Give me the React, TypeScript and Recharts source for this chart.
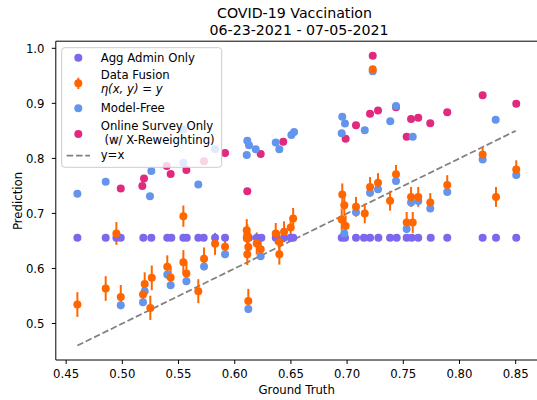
import React from 'react';
import { ScatterChart, Scatter, XAxis, YAxis, ErrorBar, ReferenceLine } from 'recharts';

// ---------- data ----------
const aggAdminX = [0.460, 0.4852, 0.4947, 0.4986, 0.5187, 0.5258, 0.540, 0.5436, 0.5543, 0.5573, 0.5676, 0.5724,
  0.5825, 0.5914, 0.6107, 0.6127, 0.6196, 0.6237, 0.6365, 0.6439, 0.6498, 0.6521, 0.6952, 0.6981, 0.7079,
  0.7150, 0.7204, 0.7278, 0.7382, 0.7441, 0.7530, 0.7575, 0.7633, 0.7744, 0.7891, 0.8206, 0.8325, 0.8505];
const aggAdminY = aggAdminX.map(() => 0.656);

const fusionX = [0.460, 0.4852, 0.4947, 0.4986, 0.5184, 0.5199, 0.5249, 0.5262, 0.540, 0.543, 0.5543, 0.5543,
  0.557, 0.5676, 0.5727, 0.5825, 0.5914, 0.6107, 0.6112, 0.6110, 0.6121, 0.6112, 0.6121, 0.6196, 0.6231,
  0.6365, 0.6397, 0.6397, 0.6439, 0.6498, 0.652, 0.6957, 0.6975, 0.6952, 0.6987, 0.7079, 0.7157, 0.7204,
  0.7275, 0.7228, 0.7382, 0.7435, 0.753, 0.7584, 0.7569, 0.7633, 0.774, 0.7891, 0.8206, 0.8325, 0.8505];
const fusionY = [0.5345, 0.5636, 0.6636, 0.548, 0.5527, 0.572, 0.5284, 0.583, 0.6029, 0.5836, 0.695, 0.6115,
  0.591, 0.5587, 0.6175, 0.6447, 0.6393, 0.6696, 0.6605, 0.6545, 0.639, 0.626, 0.541, 0.6455, 0.635,
  0.6636, 0.648, 0.626, 0.6667, 0.6745, 0.691, 0.7345, 0.715, 0.689, 0.677, 0.712, 0.700, 0.748,
  0.7556, 0.9618, 0.723, 0.771, 0.6836, 0.6836, 0.730, 0.730, 0.720, 0.7515, 0.807, 0.730, 0.780];
const fusionErr = [0.0224, 0.0224, 0.0206, 0.022, 0.018, 0.021, 0.022, 0.0224, 0.021, 0.0206, 0.0194, 0.0218,
  0.021, 0.0218, 0.0206, 0.020, 0.0194, 0.02, 0.02, 0.02, 0.02, 0.02, 0.022, 0.02, 0.019,
  0.019, 0.019, 0.019, 0.019, 0.019, 0.019, 0.02, 0.02, 0.02, 0.019, 0.018, 0.018, 0.018,
  0.0176, 0.005, 0.018, 0.017, 0.019, 0.019, 0.018, 0.018, 0.017, 0.018, 0.013, 0.018, 0.0165];

const modelFreeX = [0.4986, 0.5184, 0.5199, 0.540, 0.543, 0.557, 0.5727, 0.5914, 0.6121, 0.6231, 0.6975, 0.7079,
  0.7204, 0.7275, 0.7228, 0.7435, 0.7569, 0.7633, 0.774, 0.753, 0.7891, 0.8206, 0.8505,
  0.460, 0.4852, 0.4941, 0.5246, 0.5258, 0.5543, 0.5543, 0.5676, 0.5825, 0.6107, 0.6112, 0.6127, 0.6187,
  0.6365, 0.6397, 0.6504, 0.6528, 0.6957, 0.6981, 0.6952, 0.7157, 0.7384, 0.7435, 0.7584, 0.8322];
const modelFreeY = [0.5333, 0.5387, 0.5587, 0.589, 0.5696, 0.5769, 0.6036, 0.626, 0.5265, 0.6224, 0.6636, 0.702,
  0.7375, 0.744, 0.9582, 0.759, 0.720, 0.7224, 0.709, 0.6715, 0.739, 0.798, 0.770,
  0.7356, 0.7575, 0.834, 0.731, 0.777, 0.852, 0.792, 0.7527, 0.8164, 0.806, 0.832, 0.824, 0.8164,
  0.829, 0.8164, 0.8424, 0.848, 0.8757, 0.8636, 0.8455, 0.851, 0.8673, 0.895, 0.8393, 0.870];

const surveyX = [0.4986, 0.5178, 0.5193, 0.5395, 0.543, 0.557, 0.5727, 0.5914, 0.6112, 0.6231, 0.6432, 0.6987,
  0.7079, 0.7204, 0.7228, 0.7275, 0.7435, 0.753, 0.7569, 0.7633, 0.774, 0.7891, 0.8206, 0.8505];
const surveyY = [0.7455, 0.7496, 0.7636, 0.786, 0.7715, 0.7787, 0.795, 0.810, 0.7405, 0.8078, 0.830, 0.8356,
  0.860, 0.881, 0.9866, 0.887, 0.8927, 0.8393, 0.8715, 0.874, 0.864, 0.8836, 0.9145, 0.8993];

const diagonal = [0.46, 0.85];
const xTicks = [0.45, 0.5, 0.55, 0.6, 0.65, 0.7, 0.75, 0.8, 0.85];
const yTicks = [0.5, 0.6, 0.7, 0.8, 0.9, 1.0];

const titleLines = ['COVID-19 Vaccination', '06-23-2021 - 07-05-2021'];
const legendLabels = ['Agg Admin Only', 'Data Fusion', 'Model-Free', 'Online Survey Only', ' (w/ X-Reweighting)', 'y=x'];

// ---------- style ----------
const PURPLE = '#7b68ee';
const BLUE = '#6495ed';
const ORANGE = '#ff6600';
const PINK = '#e0297f';
const FONT = 'DejaVu Sans';
const FS = 11.7;

const aggData = aggAdminX.map((x, i) => ({ x, y: aggAdminY[i] }));
const fusionData = fusionX.map((x, i) => ({ x, y: fusionY[i], err: fusionErr[i] }));
const mfData = modelFreeX.map((x, i) => ({ x, y: modelFreeY[i] }));
const surveyData = surveyX.map((x, i) => ({ x, y: surveyY[i] }));

const dot = (color: string) => (p: any) => <circle cx={p.cx} cy={p.cy} r={4} fill={color} />;

const XTick = (p: any) => (
  <text x={p.x} y={p.y + 14.2} textAnchor="middle" fontSize={FS} fontFamily={FONT} fill="#000">
    {Number(p.payload.value).toFixed(2)}
  </text>
);
const YTick = (p: any) => (
  <text x={p.x - 7.3} y={p.y + 4.2} textAnchor="end" fontSize={FS} fontFamily={FONT} fill="#000">
    {Number(p.payload.value).toFixed(1)}
  </text>
);

const X_DOMAIN: [number, number] = [0.4408, 0.8695];
const Y_DOMAIN: [number, number] = [0.4337, 1.0129];

export default function App() {
  return (
    <div style={{ position: 'absolute', left: 0, top: 0, width: 537, height: 400, overflow: 'hidden', background: '#fff' }}>
      <ScatterChart width={540} height={400} margin={{ top: 41.2, right: 2.4, bottom: 0, left: 0 }}>
        <XAxis
          dataKey="x"
          type="number"
          domain={X_DOMAIN}
          allowDataOverflow
          ticks={xTicks}
          tick={<XTick />}
          tickSize={4}
          tickMargin={0}
          height={40}
          axisLine={{ stroke: '#000', strokeWidth: 1 }}
          tickLine={{ stroke: '#000', strokeWidth: 1 }}
        />
        <YAxis
          dataKey="y"
          type="number"
          domain={Y_DOMAIN}
          allowDataOverflow
          ticks={yTicks}
          tick={<YTick />}
          tickSize={4}
          tickMargin={0}
          width={55.8}
          axisLine={{ stroke: '#000', strokeWidth: 1 }}
          tickLine={{ stroke: '#000', strokeWidth: 1 }}
        />
        <ReferenceLine y={Y_DOMAIN[1]} stroke="#000" strokeWidth={1} ifOverflow="visible" />
        <Scatter name="Agg Admin Only" data={aggData} fill={PURPLE} shape={dot(PURPLE)} isAnimationActive={false} />
        <Scatter name="Online Survey Only" data={surveyData} fill={PINK} shape={dot(PINK)} isAnimationActive={false} />
        <Scatter name="Model-Free" data={mfData} fill={BLUE} shape={dot(BLUE)} isAnimationActive={false} />
        <ReferenceLine
          segment={[{ x: diagonal[0], y: diagonal[0] }, { x: diagonal[1], y: diagonal[1] }]}
          stroke="#808080"
          strokeWidth={1.75}
          strokeDasharray="6.5 2.8"
          ifOverflow="visible"
        />
        <Scatter name="Data Fusion" data={fusionData} fill={ORANGE} shape={dot(ORANGE)} isAnimationActive={false}>
          <ErrorBar dataKey="err" direction="y" width={0} stroke={ORANGE} strokeWidth={2} />
        </Scatter>
      </ScatterChart>
      <svg width={537} height={400} style={{ position: 'absolute', left: 0, top: 0, pointerEvents: 'none' }}>
        <g fontFamily={FONT} fill="#000">
          <text x={294.5} y={17.5} textAnchor="middle" fontSize={14.2}>{titleLines[0]}</text>
          <text x={299} y={34.5} textAnchor="middle" fontSize={14.2}>{titleLines[1]}</text>
          <text x={296.7} y={394} textAnchor="middle" fontSize={FS}>Ground Truth</text>
          <text x={21.6} y={201} textAnchor="middle" fontSize={FS} transform="rotate(-90 21.6 201)">Prediction</text>
        </g>
        <g>
          <rect x={61.7} y={47.7} width={160} height={119.6} rx={3} fill="#fff" fillOpacity={0.8} stroke="#cccccc" strokeWidth={1} />
          <circle cx={78.3} cy={57.7} r={4} fill={PURPLE} />
          <line x1={78.3} y1={77.7} x2={78.3} y2={89} stroke={ORANGE} strokeWidth={2} />
          <circle cx={78.3} cy={83.3} r={4} fill={ORANGE} />
          <circle cx={78.3} cy={108.3} r={4} fill={BLUE} />
          <circle cx={78.3} cy={134} r={4} fill={PINK} />
          <line x1={66.7} y1={155.7} x2={90} y2={155.7} stroke="#808080" strokeWidth={1.75} strokeDasharray="6.5 2.8" />
          <g fontFamily={FONT} fontSize={FS} fill="#000">
            <text x={100.7} y={62}>{legendLabels[0]}</text>
            <text x={100.7} y={79}>{legendLabels[1]}</text>
            <text x={100.7} y={92.5} fontStyle="italic">η(x, y) = y</text>
            <text x={100.7} y={111.7}>{legendLabels[2]}</text>
            <text x={100.7} y={130}>{legendLabels[3]}</text>
            <text x={100.7} y={143.8} xmlSpace="preserve" style={{ whiteSpace: 'pre' }}>{legendLabels[4]}</text>
            <text x={100.7} y={159}>{legendLabels[5]}</text>
          </g>
        </g>
      </svg>
    </div>
  );
}
